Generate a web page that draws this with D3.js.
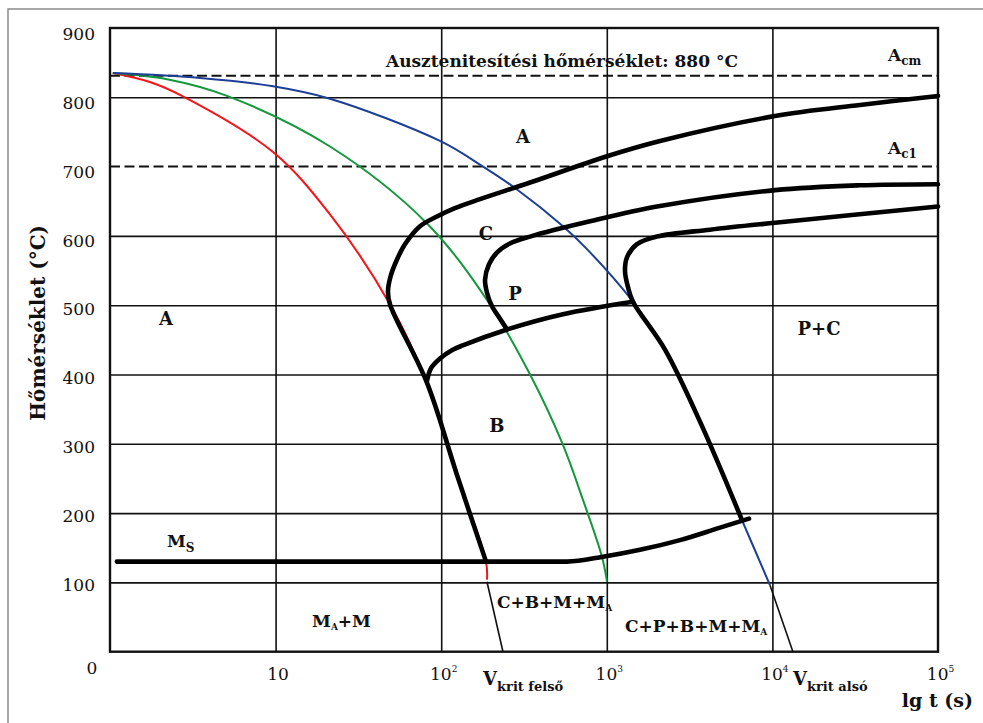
<!DOCTYPE html>
<html>
<head>
<meta charset="utf-8">
<script src="https://cdn.jsdelivr.net/npm/d3@7"></script>
<style>
  body { margin: 0; background: #fff; }
  svg { display: block; }
  text { font-family: "DejaVu Serif", serif; fill: #111; }
</style>
</head>
<body>
<svg id="chart" width="983" height="723"></svg>
<script>
// ---- axis ticks ----
const tempLabels = [100, 200, 300, 400, 500, 600, 700, 800, 900];
const tempGrid = [100, 200, 300, 400, 500, 600, 800];
const timeTicks = [10, 100, 1000, 10000, 100000];
const timeGrid = [10, 100, 1000, 10000];

// ---- characteristic temperatures (°C) ----
const acmTemp = 831;
const ac1Temp = 700;

// ---- cooling curves: [time s, temperature °C] ----
const coolRed = [[1.04,835],[1.74,822],[2.72,802],[9.65,721],[21.3,631],[49.1,501],[82.1,388],[124.6,255],[186.5,130],[189,104]];
const coolGreen = [[1.04,835],[2.21,826],[5.09,802],[21.3,729],[82.1,618],[197,501],[344,400],[536,302],[718,219],[935,137],[1003,101]];
const coolBlue = [[1.04,835],[3.50,828],[9.65,816],[21.3,798],[98.4,737],[179,700],[287,667],[544,614],[759,581],[1439,505],[2246,436],[3655,332],[6550,190],[9670,96]];

// ---- transformation lines: [time s, temperature °C] ----
const cementiteStart = [[186.5,130],[124.6,255],[82.1,388],[49.1,501],[47.7,520],[49.8,544],[54.1,566],[60.4,588],[74.5,614],[94.3,628],[121,640],[171.5,653],[344,677],[1003,715],[2096,737],[10370,773],[33800,789],[100000,802]];
const pearliteStart = [[250,465],[220,485],[203,498],[189,518],[184,537],[194.4,559],[217,576],[260,589],[344,599],[792,621],[2096,643],[10370,666],[33800,673],[100000,674.6]];
const bainiteStart = [[82.1,391],[86.8,409],[98.4,423],[116,435],[135,442],[250,465],[544,487],[1439,505]];
const pearliteEnd = [[6550,190],[3655,332],[2246,436],[1439,505],[1343,526],[1288,549],[1324,569],[1522,588],[2010,599],[4200,609],[10370,619],[100000,642.5]];
const msLine = [[1.10,130],[575,130],[948,137],[1587,147],[2767,161],[4827,179],[7222,192]];
const vkritUpper = [[189,101],[236,0]];
const vkritLower = [[9670,96],[13300,0]];

const svg = d3.select("#chart");
const x = d3.scaleLog().domain([1, 1e5]).range([110, 938]);
const y = d3.scaleLinear().domain([0, 900]).range([651.7, 28]);
const [x0, x1] = x.range();
const [y0, y1] = y.range();

// outer frame (left and top edge)
svg.append("path")
  .attr("d", "M8,723 V9 H983")
  .attr("fill", "none").attr("stroke", "#8a8a8a").attr("stroke-width", 1.5);

// grid
const gridStyle = g => {
  g.select(".domain").remove();
  g.selectAll(".tick line").attr("stroke", "#111").attr("stroke-width", 1.6);
};
svg.append("g").attr("transform", `translate(${x0},0)`)
  .call(d3.axisLeft(y).tickValues(tempGrid).tickSize(-(x1 - x0)).tickFormat(""))
  .call(gridStyle);
svg.append("g").attr("transform", `translate(0,${y0})`)
  .call(d3.axisBottom(x).tickValues(timeGrid).tickSize(-(y0 - y1)).tickFormat(""))
  .call(gridStyle);

// critical temperature lines
svg.append("g").selectAll("line").data([acmTemp, ac1Temp]).join("line")
  .attr("x1", x0).attr("x2", x1)
  .attr("y1", d => y(d)).attr("y2", d => y(d))
  .attr("stroke", "#111").attr("stroke-width", 2).attr("stroke-dasharray", "10,4.5");

// plot border
svg.append("rect")
  .attr("x", x0).attr("y", y1).attr("width", x1 - x0).attr("height", y0 - y1)
  .attr("fill", "none").attr("stroke", "#111").attr("stroke-width", 2.4);

const smooth = d3.line().x(d => x(d[0])).y(d => y(d[1])).curve(d3.curveCatmullRom.alpha(0.5));
const lineX = d3.line().x(d => x(d[0])).y(d => y(d[1])).curve(d3.curveMonotoneX);
const straight = d3.line().x(d => x(d[0])).y(d => y(d[1]));

// cooling curves
[[coolRed, "#f51419"], [coolGreen, "#13983c"], [coolBlue, "#1c3e94"]].forEach(([pts, col]) => {
  svg.append("path").attr("d", smooth(pts))
    .attr("fill", "none").attr("stroke", col).attr("stroke-width", 2);
});

// critical cooling lines below 100 °C
[vkritUpper, vkritLower].forEach(pts => {
  svg.append("path").attr("d", straight(pts))
    .attr("fill", "none").attr("stroke", "#111").attr("stroke-width", 1.6);
});

// transformation boundaries
const thick = p => p.attr("fill", "none").attr("stroke", "#000").attr("stroke-width", 4.6)
  .attr("stroke-linecap", "round").attr("stroke-linejoin", "round");
[cementiteStart, pearliteStart, bainiteStart, pearliteEnd].forEach(pts => {
  svg.append("path").attr("d", smooth(pts)).call(thick);
});
svg.append("path").attr("d", lineX(msLine)).call(thick);

// y tick labels
const yAxis = svg.append("g").attr("transform", `translate(${x0},0)`)
  .call(d3.axisLeft(y).tickValues(tempLabels).tickSize(0).tickPadding(15));
yAxis.select(".domain").remove();
yAxis.selectAll("text")
  .attr("font-family", "DejaVu Serif").attr("font-size", 17).attr("fill", "#111")
  .attr("transform", d => `translate(0,${2 + (d / 900) * 4})`);

// x tick labels: powers of ten
const xAxis = svg.append("g").attr("transform", `translate(0,${y0})`)
  .call(d3.axisBottom(x).tickValues(timeTicks).tickSize(0).tickPadding(0).tickFormat(""));
xAxis.select(".domain").remove();
xAxis.selectAll(".tick text").each(function (d) {
  const t = d3.select(this)
    .attr("font-family", "DejaVu Serif").attr("font-size", 17).attr("fill", "#111")
    .attr("dy", null).attr("y", 28).attr("x", 2).attr("text-anchor", "middle");
  const p = Math.round(Math.log10(d));
  t.append("tspan").text("10");
  if (p > 1) t.append("tspan").attr("font-size", 9).attr("dy", -8).text(p);
});
svg.append("text").attr("x", x0 - 18).attr("y", y0 + 22)
  .attr("font-size", 17).attr("text-anchor", "middle").text("0");

// labels with optional subscripts
function label(px, py, parts, anchor) {
  const t = svg.append("text").attr("x", px).attr("y", py)
    .attr("font-weight", "bold").attr("text-anchor", anchor || "start");
  let shift = 0;
  parts.forEach(([str, size, dy]) => {
    const d = (dy || 0) - shift;
    shift = dy || 0;
    t.append("tspan").attr("font-size", size).attr("dy", d).text(str);
  });
  return t;
}

label(x(536), y(843.6), [["Ausztenitesítési hőmérséklet: 880 °C", 17]], "middle");
label(x(312), y(734), [["A", 18]], "middle");
label(x(2.18), y(472), [["A", 18]], "middle");
label(x(186), y(593.6), [["C", 18]], "middle");
label(x(279), y(508), [["P", 18]], "middle");
label(x(217), y(317.5), [["B", 18]], "middle");
label(x(19120), y(456.3), [["P+C", 18]], "middle");
label(x(2.21), y(151.3), [["M", 17], ["S", 12, 5]]);
label(x(16.6), y(35.7), [["M", 17], ["A", 9, 3], ["+M", 17]]);
label(x(217), y(63.2), [["C+B+M+M", 17], ["A", 9, 3]]);
label(x(1288), y(28.5), [["C+P+B+M+M", 17], ["A", 9, 3]]);
label(x(49900), y(852.3), [["A", 17], ["cm", 12, 4]]);
label(x(49900), y(718), [["A", 17], ["c1", 12, 4]]);
label(x(179), y0 + 33, [["V", 18], ["krit felső", 13, 6]]);
label(x(13320), y0 + 33, [["V", 18], ["krit alsó", 13, 6]]);
label(x1 + 35, y0 + 55, [["lg t (s)", 19]], "end");

// y axis title
svg.append("text")
  .attr("transform", `translate(45,${(y0 + y1) / 2 - 17}) rotate(-90)`)
  .attr("text-anchor", "middle").attr("font-weight", "bold").attr("font-size", 20)
  .text("Hőmérséklet (°C)");
</script>
</body>
</html>
